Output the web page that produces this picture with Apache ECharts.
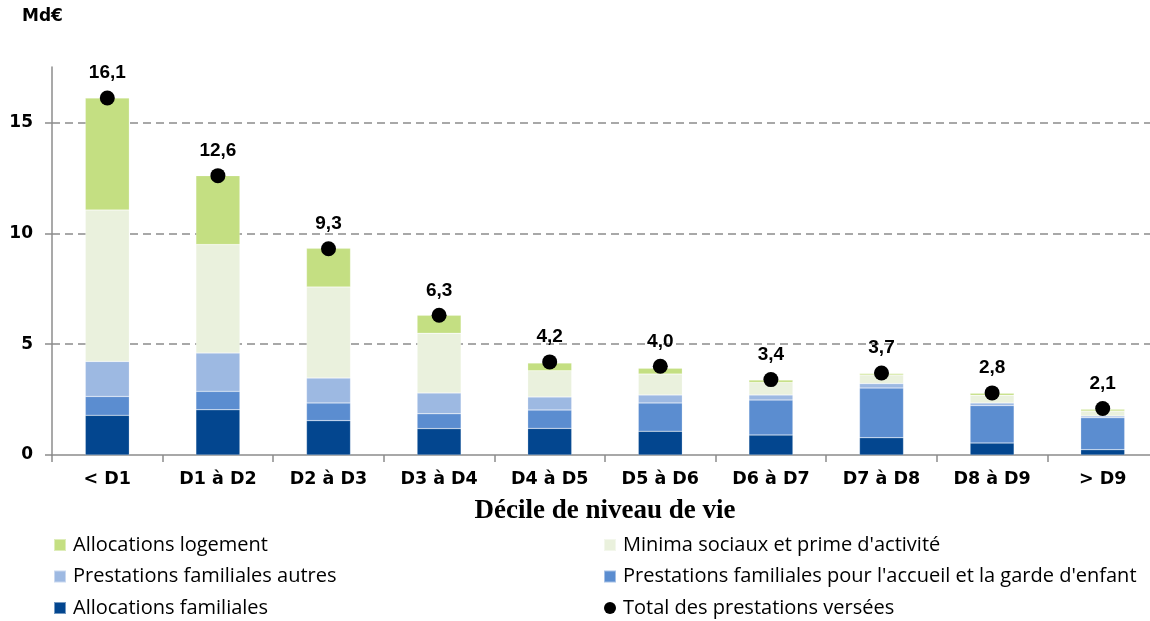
<!DOCTYPE html>
<html>
<head>
<meta charset="utf-8">
<script src="https://cdn.jsdelivr.net/npm/echarts@6/dist/echarts.min.js"></script>
<style>
  html, body { margin: 0; padding: 0; background: #fff; }
  #chart { width: 1150px; height: 621px; }
</style>
</head>
<body>
<div id="chart"></div>
<script>
// deciles de niveau de vie
const categories = ['< D1', 'D1 à D2', 'D2 à D3', 'D3 à D4', 'D4 à D5', 'D5 à D6', 'D6 à D7', 'D7 à D8', 'D8 à D9', '> D9']

// Md€
const allocFamiliales = [1.79, 2.04, 1.55, 1.19, 1.20, 1.07, 0.90, 0.78, 0.54, 0.24]
const accueilEnfant = [0.85, 0.83, 0.80, 0.67, 0.83, 1.28, 1.58, 2.24, 1.69, 1.44]
const famAutres = [1.58, 1.73, 1.12, 0.94, 0.59, 0.36, 0.23, 0.20, 0.12, 0.08]
const minimaSociaux = [6.83, 4.89, 4.11, 2.69, 1.18, 0.94, 0.56, 0.39, 0.34, 0.22]
const allocLogement = [5.05, 3.11, 1.74, 0.81, 0.35, 0.26, 0.11, 0.07, 0.09, 0.08]
const totals = [16.1, 12.6, 9.3, 6.3, 4.2, 4.0, 3.4, 3.7, 2.8, 2.1]

const yTicks = [0, 5, 10, 15]

const names = {
  logement: 'Allocations logement',
  minima: 'Minima sociaux et prime d\'activité',
  autres: 'Prestations familiales autres',
  accueil: 'Prestations familiales pour l\'accueil et la garde d\'enfant',
  af: 'Allocations familiales',
  total: 'Total des prestations versées'
}

const axisGrey = '#8c8c8c'
const wideBold = 'DejaVu Sans'

function barSerie(name, data, color) {
  return {
    name: name,
    type: 'bar',
    stack: 'total',
    barWidth: 44,
    itemStyle: { color: color, borderColor: 'rgba(255,255,255,0.45)', borderWidth: 0.5 },
    data: data
  }
}

const legendText = { fontFamily: 'Open Sans', fontSize: 20, color: '#000', lineHeight: 24, padding: [0, 0, 0, 2] }

const chart = echarts.init(document.getElementById('chart'))
chart.setOption({
  animation: false,
  title: {
    text: 'Md€',
    left: 17,
    top: 3,
    textStyle: { fontFamily: wideBold, fontSize: 17, fontWeight: 'bold', color: '#000' }
  },
  grid: { left: 52, right: -8, top: 67, bottom: 166, outerBoundsMode: 'none' },
  legend: [
    {
      left: 53, top: 533, orient: 'vertical', itemGap: 7.5, padding: 0,
      itemWidth: 12, itemHeight: 12,
      textStyle: legendText,
      data: [
        { name: names.logement, icon: 'rect' },
        { name: names.autres, icon: 'rect' },
        { name: names.af, icon: 'rect' }
      ]
    },
    {
      left: 603, top: 533, orient: 'vertical', itemGap: 7.5, padding: 0,
      itemWidth: 12, itemHeight: 12,
      textStyle: legendText,
      data: [
        { name: names.minima, icon: 'rect' },
        { name: names.accueil, icon: 'rect' },
        { name: names.total, icon: 'circle' }
      ]
    }
  ],
  xAxis: {
    type: 'category',
    data: categories,
    name: 'Décile de niveau de vie',
    nameLocation: 'middle',
    nameGap: 43,
    nameTextStyle: { fontFamily: 'Liberation Serif', fontSize: 27, fontWeight: 'bold', color: '#000' },
    axisLine: { lineStyle: { color: axisGrey, width: 1.5 } },
    axisTick: { show: true, length: 7, lineStyle: { color: axisGrey, width: 1.5 } },
    axisLabel: { margin: 15, fontFamily: wideBold, fontSize: 17.5, fontWeight: 'bold', color: '#000' }
  },
  yAxis: {
    type: 'value',
    min: 0,
    max: 17.5,
    interval: 5,
    axisLine: { show: true, lineStyle: { color: axisGrey, width: 1.5 } },
    axisTick: { show: true, length: 7, lineStyle: { color: axisGrey, width: 1.5 } },
    axisLabel: {
      margin: 19, fontFamily: wideBold, fontSize: 17, fontWeight: 'bold', color: '#000',
      showMaxLabel: false,
      formatter: v => (yTicks.indexOf(v) >= 0 ? String(v) : '')
    },
    splitLine: {
      show: true, showMinLine: false, showMaxLine: false,
      lineStyle: { color: axisGrey, type: [8, 5], width: 1.5 }
    }
  },
  series: [
    barSerie(names.af, allocFamiliales, '#03468f'),
    barSerie(names.accueil, accueilEnfant, '#5b8dd0'),
    barSerie(names.autres, famAutres, '#9db9e2'),
    barSerie(names.minima, minimaSociaux, '#eaf1dd'),
    barSerie(names.logement, allocLogement, '#c4df82'),
    {
      name: names.total,
      type: 'scatter',
      symbol: 'circle',
      symbolSize: 15,
      z: 5,
      itemStyle: { color: '#000', opacity: 1 },
      label: {
        show: true,
        position: 'top',
        distance: 8,
        fontFamily: 'Liberation Sans',
        fontSize: 19,
        fontWeight: 'bold',
        color: '#000',
        opacity: 1,
        formatter: p => p.value.toFixed(1).replace('.', ',')
      },
      data: totals
    }
  ]
})
</script>
</body>
</html>
